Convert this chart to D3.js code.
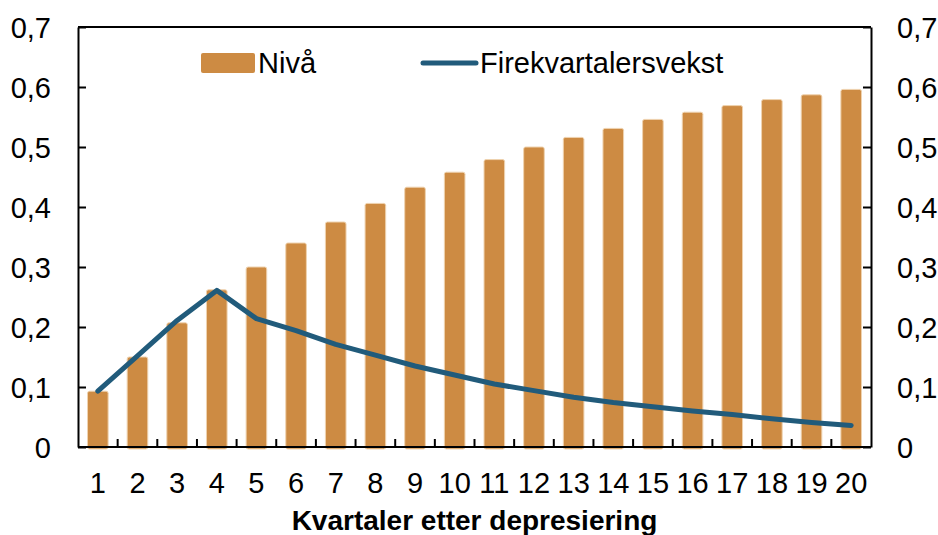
<!DOCTYPE html>
<html lang="no">
<head>
    <meta charset="UTF-8">
    <title>Kvartaler etter depresiering</title>
    <style>
        body {
            margin: 0;
            background: #ffffff;
            font-family: "Liberation Sans", Arial, sans-serif;
        }
        svg text {
            fill: #000000;
        }
        .axis path, .axis line {
            stroke: #000000;
            stroke-width: 2px;
        }
        .axis text {
            font-size: 29px;
            font-family: "Liberation Sans", Arial, sans-serif;
        }
    </style>
</head>
<body>
    <script src="https://d3js.org/d3.v7.min.js"></script>
    <script>
        // data
        const categories = ["1", "2", "3", "4", "5", "6", "7", "8", "9", "10",
                            "11", "12", "13", "14", "15", "16", "17", "18", "19", "20"];
        const niva = [0.093, 0.150, 0.207, 0.262, 0.300, 0.340, 0.375, 0.406, 0.433, 0.458,
                      0.479, 0.500, 0.516, 0.531, 0.546, 0.558, 0.569, 0.579, 0.587, 0.596];
        const vekst = [0.093, 0.152, 0.211, 0.261, 0.214, 0.194, 0.171, 0.153, 0.135, 0.120,
                       0.105, 0.094, 0.083, 0.074, 0.067, 0.060, 0.054, 0.047, 0.041, 0.036];
        const yTicks = [0, 0.1, 0.2, 0.3, 0.4, 0.5, 0.6, 0.7];
        const seriesNames = ["Nivå", "Firekvartalersvekst"];
        const xTitle = "Kvartaler etter depresiering";

        const barColor = "#cd8b43";
        const lineColor = "#215b7b";

        const width = 938, height = 535;
        const margin = { left: 78, right: 871, top: 27, bottom: 447 };

        const svg = d3.select("body").append("svg")
            .attr("width", width)
            .attr("height", height);

        const x = d3.scaleBand()
            .domain(categories)
            .range([margin.left, margin.right])
            .paddingInner(0.48)
            .paddingOuter(0.24);

        const y = d3.scaleLinear()
            .domain([0, 0.7])
            .range([margin.bottom, margin.top]);

        const fmt = d => d === 0 ? "0" : d3.format(".1f")(d).replace(".", ",");

        // bars
        svg.append("g").selectAll("rect")
            .data(niva)
            .enter().append("rect")
            .attr("x", (d, i) => x(categories[i]))
            .attr("y", d => y(d))
            .attr("width", x.bandwidth())
            .attr("height", d => y(0) - y(d) + 2)
            .attr("rx", 2)
            .attr("fill", barColor)
            .attr("stroke", "#efd3b0")
            .attr("stroke-width", 1);

        // frame top
        svg.append("line")
            .attr("x1", margin.left).attr("x2", margin.right)
            .attr("y1", margin.top).attr("y2", margin.top)
            .attr("stroke", "#000").attr("stroke-width", 2);

        // left axis
        svg.append("g")
            .attr("class", "axis")
            .attr("transform", `translate(${margin.left},0)`)
            .call(d3.axisLeft(y).tickValues(yTicks).tickFormat(fmt)
                .tickSizeInner(-8).tickSizeOuter(0).tickPadding(27))
            .call(g => g.selectAll("text").attr("dy", "0.35em"));

        // right axis
        svg.append("g")
            .attr("class", "axis")
            .attr("transform", `translate(${margin.right},0)`)
            .call(d3.axisRight(y).tickValues(yTicks).tickFormat(fmt)
                .tickSizeInner(-8).tickSizeOuter(0).tickPadding(26))
            .call(g => g.selectAll("text").attr("dy", "0.35em"));

        // bottom axis: labels centred on the bars, ticks between categories
        const xAxis = svg.append("g")
            .attr("class", "axis")
            .attr("transform", `translate(0,${margin.bottom})`)
            .call(d3.axisBottom(x).tickSize(0).tickPadding(25));
        xAxis.select(".domain").attr("d", `M${margin.left},0H${margin.right}`);

        svg.append("g").selectAll("line")
            .data(categories.slice(0, -1))
            .enter().append("line")
            .attr("x1", d => x(d) + x.bandwidth() / 2 + x.step() / 2)
            .attr("x2", d => x(d) + x.bandwidth() / 2 + x.step() / 2)
            .attr("y1", margin.bottom)
            .attr("y2", margin.bottom - 8)
            .attr("stroke", "#000")
            .attr("stroke-width", 2);

        // growth line
        const line = d3.line()
            .x((d, i) => x(categories[i]) + x.bandwidth() / 2)
            .y(d => y(d));

        svg.append("path")
            .datum(vekst)
            .attr("d", line)
            .attr("fill", "none")
            .attr("stroke", lineColor)
            .attr("stroke-width", 5)
            .attr("stroke-linejoin", "round")
            .attr("stroke-linecap", "round");

        // legend
        const legend = svg.append("g").attr("font-size", 29);
        legend.append("rect")
            .attr("x", 201).attr("y", 53)
            .attr("width", 54).attr("height", 20)
            .attr("rx", 2)
            .attr("fill", barColor);
        legend.append("text")
            .attr("x", 258).attr("y", 73)
            .text(seriesNames[0]);
        legend.append("line")
            .attr("x1", 423).attr("x2", 476)
            .attr("y1", 63).attr("y2", 63)
            .attr("stroke", lineColor)
            .attr("stroke-width", 5)
            .attr("stroke-linecap", "round");
        legend.append("text")
            .attr("x", 480).attr("y", 73)
            .text(seriesNames[1]);

        // x axis title
        svg.append("text")
            .attr("x", (margin.left + margin.right) / 2)
            .attr("y", 530)
            .attr("text-anchor", "middle")
            .attr("font-size", 28)
            .attr("font-weight", "bold")
            .text(xTitle);
    </script>
</body>
</html>
